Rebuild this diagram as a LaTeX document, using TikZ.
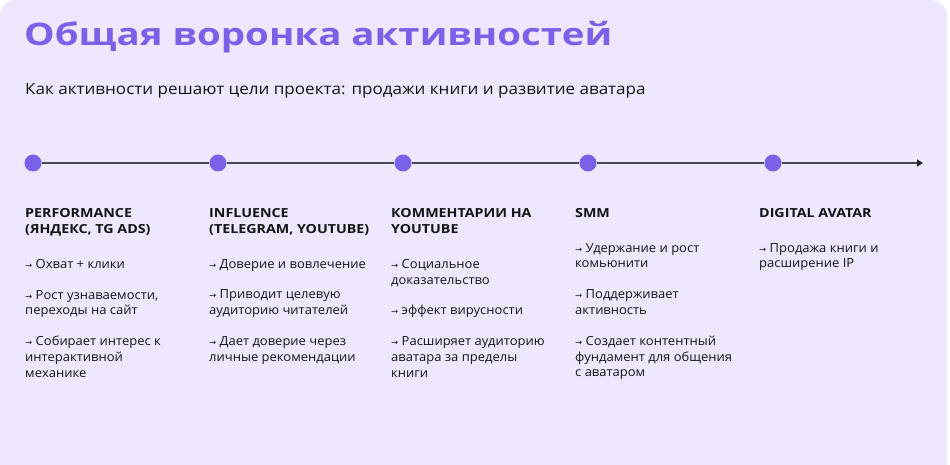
\documentclass[tikz,border=0pt]{standalone}
\usepackage{fontspec}
\setmainfont{Open Sans}
\newfontfamily\titlefont[FakeStretch=1.24]{Open Sans}
\newfontfamily\subfont[FakeStretch=1.1]{Open Sans}
\newfontfamily\headfont[FakeStretch=1.14]{Open Sans}
\newfontfamily\bodyfont[FakeStretch=1.04]{Open Sans}
\newfontfamily\arrfont{DejaVu Sans}
\usetikzlibrary{arrows.meta}
\definecolor{bg}{HTML}{EFE7FE}
\definecolor{accent}{HTML}{7B61E8}
\definecolor{ink}{HTML}{141414}
\definecolor{axis}{HTML}{4A4A52}
\newcommand\ar{{\arrfont\fontsize{8.5}{8.5}\selectfont →}\ }
\begin{document}
\begin{tikzpicture}[x=1pt,y=-1pt,
  dot/.style={circle,fill=accent,minimum size=17pt,inner sep=0pt},
  axisline/.style={draw=axis,line width=1.3pt},
  head/.style={anchor=north west,inner sep=0pt,align=left,text=ink,
    font=\headfont\fontsize{12.5}{15.7}\selectfont\bfseries},
  body/.style={anchor=north west,inner sep=0pt,align=left,text=ink,
    font=\bodyfont\fontsize{12.5}{15.8}\selectfont}]
\useasboundingbox (0,0) rectangle (950,465);
\fill[white] (0,0) rectangle (950,465);
\fill[bg,rounded corners=16pt] (0,500) -- (0,0) -- (947,0) -- (947,500) -- cycle;
\node[anchor=base west,inner sep=0pt,text=accent,font=\titlefont\fontsize{31}{36}\selectfont\bfseries] (title) at (24,46) {Общая воронка активностей};
\node[anchor=base west,inner sep=0pt,text=ink,font=\subfont\fontsize{15.5}{18}\selectfont] (sub) at (25,95) {Как активности решают цели проекта: продажи книги и развитие аватара};
\node[dot] (d1) at (33,163) {};
\node[dot] (d2) at (218,163) {};
\node[dot] (d3) at (403,163) {};
\node[dot] (d4) at (588,163) {};
\node[dot] (d5) at (773,163) {};
\coordinate (end) at (923,163);
\draw[axisline] (d1) -- (d2) -- (d3) -- (d4) -- (d5);
\draw[axisline,-{Triangle[length=6pt,width=7pt,color=black!85]}] (d5) -- (end);
\node[head] (h1) at (25,208.5) {PERFORMANCE\\(ЯНДЕКС, TG ADS)};
\node[head] (h2) at (209,208.5) {INFLUENCE\\(TELEGRAM, YOUTUBE)};
\node[head] (h3) at (391,208.5) {КОММЕНТАРИИ НА\\YOUTUBE};
\node[head] (h4) at (575,208.5) {SMM};
\node[head] (h5) at (759,208.5) {DIGITAL AVATAR};
\node[body] (b1) at (25,259) {\ar Охват + клики\\[15pt]\ar Рост узнаваемости,\\переходы на сайт\\[15pt]\ar Собирает интерес к\\интерактивной\\механике};
\node[body] (b2) at (209,259) {\ar Доверие и вовлечение\\[15pt]\ar Приводит целевую\\аудиторию читателей\\[15pt]\ar Дает доверие через\\личные рекомендации};
\node[body] (b3) at (391,259) {\ar Социальное\\доказательство\\[15pt]\ar эффект вирусности\\[15pt]\ar Расширяет аудиторию\\аватара за пределы\\книги};
\node[body] (b4) at (575,243) {\ar Удержание и рост\\комьюнити\\[15pt]\ar Поддерживает\\активность\\[15pt]\ar Создает контентный\\фундамент для общения\\с аватаром};
\node[body] (b5) at (759,243) {\ar Продажа книги и\\расширение IP};
\end{tikzpicture}
\end{document}
